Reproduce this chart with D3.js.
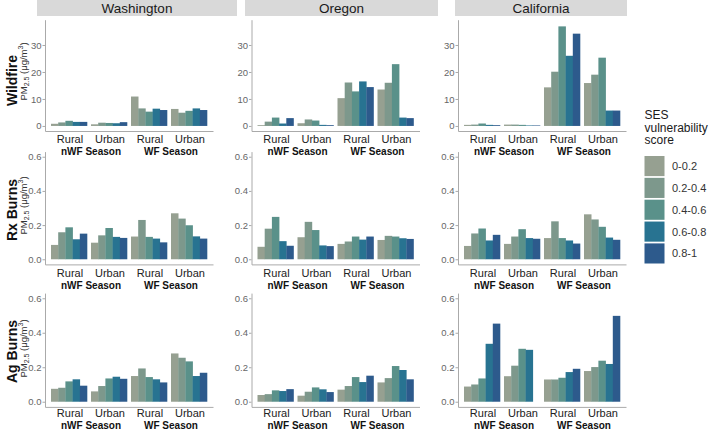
<!DOCTYPE html>
<html>
<head>
<meta charset="utf-8">
<script src="https://cdn.jsdelivr.net/npm/d3@7"></script>
<style>
  body { margin: 0; background: #fff; }
  svg { font-family: "Liberation Sans", Arial, sans-serif; }
</style>
</head>
<body>
<script>
// categorias
var states = ["Washington", "Oregon", "California"];
var sources = ["Wildfire", "Rx Burns", "Ag Burns"];
var seasons = ["nWF Season", "WF Season"];
var areas = ["Rural", "Urban", "Rural", "Urban"];
var bins = ["0-0.2", "0.2-0.4", "0.4-0.6", "0.6-0.8", "0.8-1"];
var colores = ["#96a091", "#7d988c", "#5a918a", "#287391", "#2d5a8c"];

// ticks del eje y
var wildfireTicks = [0, 10, 20, 30];
var burnTicks = [0, 0.2, 0.4, 0.6];

// valores: [nWF Rural, nWF Urban, WF Rural, WF Urban] x 5 clases SES
var wildfireWA = [[0.8, 1.3, 1.9, 1.5, 1.5], [0.6, 1.2, 1.1, 1.0, 1.4], [10.9, 6.5, 5.3, 6.4, 5.9], [6.3, 4.9, 5.6, 6.5, 5.9]];
var wildfireOR = [[0.3, 1.6, 3.1, 0.9, 2.9], [1.0, 2.4, 2.0, 0.4, 0.3], [10.3, 16.1, 12.8, 16.5, 14.4], [13.5, 16.0, 22.9, 3.1, 2.9]];
var wildfireCA = [[0.4, 0.5, 0.9, 0.4, 0.3], [0.5, 0.5, 0.4, 0.2, 0.2], [14.3, 20.1, 36.9, 26.0, 34.2], [15.9, 19.0, 25.3, 5.7, 5.7]];

var rxWA = [[0.084, 0.158, 0.187, 0.117, 0.150], [0.097, 0.140, 0.183, 0.131, 0.125], [0.133, 0.230, 0.131, 0.121, 0.099], [0.269, 0.238, 0.199, 0.134, 0.121]];
var rxOR = [[0.073, 0.179, 0.248, 0.106, 0.079], [0.129, 0.219, 0.171, 0.081, 0.077], [0.090, 0.104, 0.133, 0.115, 0.133], [0.113, 0.137, 0.133, 0.123, 0.119]];
var rxCA = [[0.078, 0.151, 0.180, 0.110, 0.143], [0.090, 0.133, 0.176, 0.124, 0.120], [0.124, 0.222, 0.124, 0.110, 0.092], [0.263, 0.233, 0.190, 0.127, 0.114]];

var agWA = [[0.075, 0.081, 0.118, 0.130, 0.093], [0.060, 0.091, 0.135, 0.145, 0.133], [0.149, 0.193, 0.143, 0.130, 0.112], [0.280, 0.255, 0.234, 0.149, 0.168]];
var agOR = [[0.039, 0.044, 0.066, 0.062, 0.073], [0.035, 0.058, 0.083, 0.072, 0.056], [0.070, 0.091, 0.143, 0.114, 0.151], [0.112, 0.137, 0.207, 0.184, 0.130]];
var agCA = [[0.088, 0.100, 0.135, 0.336, 0.453], [0.148, 0.209, 0.307, 0.301, null], [0.129, 0.129, 0.139, 0.172, 0.191], [0.178, 0.201, 0.238, 0.219, 0.498]];

function grafica() {
    var w = 709;
    var h = 430;
    var svg = d3.select("body").append("svg")
        .attr("width", w)
        .attr("height", h);

    // layout de paneles
    var colX = [[45, 213], [251.5, 419.5], [458, 626]];
    var strips = [[37, 237], [245, 438], [455, 627]];
    var filas = [
        { nombre: sources[0], datos: [wildfireWA, wildfireOR, wildfireCA], ticks: wildfireTicks, dom: [-1.875, 39.375], rango: [131, 19.7], fmt: d3.format("d"), tickY: 142.5, seasonY: 154.5, lblY: 80.5, pmY: 71.5 },
        { nombre: sources[1], datos: [rxWA, rxOR, rxCA], ticks: burnTicks, dom: [-0.03, 0.63], rango: [264.4, 151.6], fmt: d3.format(".1f"), tickY: 277.5, seasonY: 289, lblY: 210, pmY: 205.5 },
        { nombre: sources[2], datos: [agWA, agOR, agCA], ticks: burnTicks, dom: [-0.03, 0.63], rango: [406.9, 293.1], fmt: d3.format(".1f"), tickY: 417, seasonY: 428.5, lblY: 351.5, pmY: 348.5 }
    ];

    // strips de estados
    states.forEach(function (s, i) {
        svg.append("rect")
            .attr("x", strips[i][0]).attr("y", 0)
            .attr("width", strips[i][1] - strips[i][0]).attr("height", 16)
            .attr("fill", "#d9d9d9");
        svg.append("text")
            .attr("x", (strips[i][0] + strips[i][1]) / 2).attr("y", 13)
            .attr("text-anchor", "middle")
            .attr("font-size", 13.5)
            .attr("fill", "#1a1a1a")
            .text(s);
    });

    filas.forEach(function (fila) {
        var y = d3.scaleLinear().domain(fila.dom).range(fila.rango);

        // titulo de la fila
        svg.append("text")
            .attr("transform", "translate(16.5," + fila.lblY + ") rotate(-90)")
            .attr("text-anchor", "middle")
            .attr("font-size", 14)
            .attr("font-weight", "bold")
            .attr("fill", "#111")
            .text(fila.nombre);
        var pm = svg.append("text")
            .attr("transform", "translate(26.5," + fila.pmY + ") rotate(-90)")
            .attr("text-anchor", "middle")
            .attr("font-size", 9.5)
            .attr("fill", "#333");
        pm.append("tspan").text("PM");
        pm.append("tspan").attr("font-size", 7).attr("dy", 2).text("2.5");
        pm.append("tspan").attr("dy", -2).text(" (\u03bcg/m");
        pm.append("tspan").attr("font-size", 7).attr("dy", -3.5).text("3");
        pm.append("tspan").attr("dy", 3.5).text(")");

        fila.datos.forEach(function (valores, i) {
            var x = d3.scaleBand().domain([0, 1, 2, 3])
                .range(colX[i])
                .paddingInner(0.1)
                .paddingOuter(0.15);
            var xs = d3.scaleBand().domain(bins).range([0, x.bandwidth()]);

            var g = svg.append("g");

            // barras
            var grupos = g.selectAll("g.grupo")
                .data(valores)
                .enter()
                .append("g")
                .attr("transform", function (d, idx) { return "translate(" + x(idx) + ",0)"; });
            grupos.selectAll("rect")
                .data(function (d) {
                    return d.map(function (v, k) { return { v: v, k: k }; })
                        .filter(function (e) { return e.v !== null; });
                })
                .enter()
                .append("rect")
                .attr("x", function (e) { return xs(bins[e.k]); })
                .attr("width", xs.bandwidth() + 0.3)
                .attr("y", function (e) { return y(e.v); })
                .attr("height", function (e) { return y(0) - y(e.v); })
                .attr("fill", function (e) { return colores[e.k]; });

            // eje y
            var ay = g.append("g")
                .attr("transform", "translate(" + colX[i][0] + ",0)")
                .call(d3.axisLeft(y).tickValues(fila.ticks).tickFormat(fila.fmt).tickSize(2.5).tickSizeOuter(0));
            ay.select(".domain").attr("stroke", "#aaa");
            ay.selectAll(".tick line").attr("stroke", "#aaa");
            ay.selectAll(".tick text")
                .attr("font-size", 9.5)
                .attr("fill", "#666")
                .attr("x", -3.5)
                .style("font-family", "Liberation Sans, Arial, sans-serif");

            // eje x
            var ax = g.append("g")
                .attr("transform", "translate(0," + fila.rango[0] + ")")
                .call(d3.axisBottom(x).tickFormat(function (d) { return areas[d]; }).tickSize(0).tickSizeOuter(0));
            ax.select(".domain").attr("stroke", "#aaa");
            ax.selectAll(".tick text")
                .attr("font-size", 11)
                .attr("fill", "#222")
                .attr("dx", 1)
                .attr("y", fila.tickY - fila.rango[0])
                .attr("dy", 0)
                .style("font-family", "Liberation Sans, Arial, sans-serif");

            // temporadas
            seasons.forEach(function (s, j) {
                var c = (x(j * 2) + x(j * 2 + 1) + x.bandwidth()) / 2;
                g.append("text")
                    .attr("x", c + 2)
                    .attr("y", fila.seasonY)
                    .attr("text-anchor", "middle")
                    .attr("font-size", 10)
                    .attr("font-weight", "bold")
                    .attr("fill", "#111")
                    .text(s);
            });
        });
    });

    // leyenda
    var leg = svg.append("g");
    ["SES", "vulnerability", "score"].forEach(function (t, i) {
        leg.append("text")
            .attr("x", 644.5)
            .attr("y", 119 + i * 12.5)
            .attr("font-size", 12)
            .attr("fill", "#1a1a1a")
            .text(t);
    });
    var ly = d3.scaleBand().domain(bins).range([156, 263.5]).paddingInner(0.08);
    leg.selectAll("rect")
        .data(bins)
        .enter()
        .append("rect")
        .attr("x", 644.5)
        .attr("y", function (d) { return ly(d); })
        .attr("width", 20)
        .attr("height", ly.bandwidth())
        .attr("fill", function (d, i) { return colores[i]; });
    leg.selectAll("text.lab")
        .data(bins)
        .enter()
        .append("text")
        .attr("class", "lab")
        .attr("x", 672)
        .attr("y", function (d) { return ly(d) + ly.bandwidth() / 2 + 4; })
        .attr("font-size", 11)
        .attr("fill", "#333")
        .text(function (d) { return d; });
}

grafica();
</script>
</body>
</html>
